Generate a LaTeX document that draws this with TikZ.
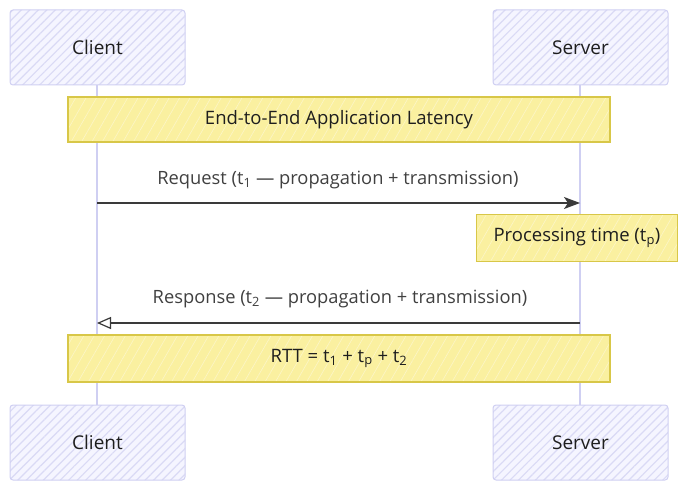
\documentclass[tikz,border=0pt]{standalone}
\usepackage{fontspec}
\setmainfont{Open Sans}
\usetikzlibrary{arrows.meta,patterns.meta}
\definecolor{lavfill}{HTML}{F5F5FF}
\definecolor{lavline}{HTML}{CFCFF2}
\definecolor{lavhatch}{HTML}{DADAF5}
\definecolor{yelfill}{HTML}{FAF0A0}
\definecolor{yelhatch}{HTML}{FCF6C8}
\definecolor{yelline}{HTML}{D8C748}
\definecolor{ink}{HTML}{1E1E1E}
\definecolor{arrowink}{HTML}{3A3A3A}
\newcommand\mysub[1]{\textsubscript{#1}}
\tikzset{
  actor/.style={draw=lavline, line width=1pt, rounded corners=3pt,
    preaction={fill=lavfill},
    pattern={Lines[angle=45,distance=6pt,line width=1.2pt]}, pattern color=lavhatch,
    minimum width=175pt, minimum height=75pt, text=ink, font=\fontsize{19}{22}\selectfont},
  band/.style={draw=yelline, line width=1.4pt, preaction={fill=yelfill},
    pattern={Lines[angle=60,distance=9pt,line width=0.6pt]}, pattern color=yelhatch,
    text=ink, font=\fontsize{18.5}{22}\selectfont, inner sep=0pt},
  lifeline/.style={draw=lavline, line width=1.3pt},
  msg/.style={draw=arrowink, line width=1.2pt},
  lbl/.style={text=ink!85, font=\fontsize{18.3}{22}\selectfont}
}
\begin{document}
\begin{tikzpicture}[x=1pt,y=-1pt]
\useasboundingbox (0,0) rectangle (679,481);
% lifelines
\draw[lifeline] (97,85) -- (97,405);
\draw[lifeline] (580,85) -- (580,405);
% actors
\node[actor] (c1) at (97.5,47.5) {Client};
\node[actor] (s1) at (580.5,47.5) {Server};
\node[actor] (c2) at (97.5,442.5) {Client};
\node[actor] (s2) at (580.5,442.5) {Server};
% bands
\node[band, minimum width=542pt, minimum height=45pt] (lat) at (339,119.5) {End-to-End Application Latency};
\node[band, minimum width=201pt, minimum height=47pt] (proc) at (577,238) {Processing time (t\mysub{p})};
\node[band, minimum width=542pt, minimum height=47pt] (rtt) at (339,358.5) {RTT = t\mysub{1} + t\mysub{p} + t\mysub{2}};
% message anchors
\coordinate (cq) at (97,203);
\coordinate (sq) at (580,203);
\coordinate (sr) at (580,323);
\coordinate (cr) at (97,323);
\draw[msg, -{Stealth[length=16pt,width=12pt,inset=4pt]}] (cq) -- (sq);
\draw[msg, -{Triangle[open,length=14pt,width=12pt]}] (sr) -- (cr);
\node[lbl] (reql) at (338,180) {Request (t\mysub{1} — propagation + transmission)};
\node[lbl] (resl) at (340,298.5) {Response (t\mysub{2} — propagation + transmission)};
\end{tikzpicture}
\end{document}
